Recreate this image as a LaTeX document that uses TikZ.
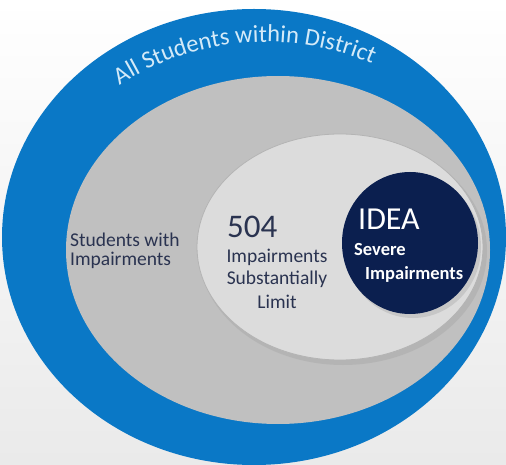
\documentclass[tikz,border=0pt]{standalone}
\usepackage{fontspec}
\setmainfont{Carlito}
\usetikzlibrary{decorations.text}
\definecolor{bandblue}{HTML}{0A78C6}
\definecolor{midgray}{HTML}{C0C0C0}
\definecolor{lightfill}{HTML}{DCDCDC}
\definecolor{lightedge}{HTML}{B4B4B4}
\definecolor{shadowgray}{HTML}{A9A9A9}
\definecolor{navyfill}{HTML}{0B1F4F}
\definecolor{darktext}{HTML}{2A3350}
\definecolor{arctext}{HTML}{D4EAF8}
\definecolor{bgbot}{HTML}{EAEAEA}
\tikzset{
  darklabel/.style={inner sep=0pt, text=darktext, font=\fontsize{19.5}{19.5}\selectfont},
  whitelabel/.style={inner sep=0pt, text=white, font=\bfseries\fontsize{18.5}{18.5}\selectfont},
}
\begin{document}
\begin{tikzpicture}[x=1pt,y=1pt]
\useasboundingbox (0,0) rectangle (506,464);
\shade[top color=white, bottom color=bgbot] (0,0) rectangle (506,464);
% outer blue band
\fill[bandblue] (254,227) ellipse [x radius=252, y radius=228];
% gray ellipse
\fill[midgray] (278,214) ellipse [x radius=212, y radius=174];
% light ellipse with soft shadow
\fill[shadowgray, opacity=0.5] (343,213) ellipse [x radius=144, y radius=114];
\fill[lightfill, draw=lightedge, line width=0.8pt] (340,217) ellipse [x radius=143, y radius=113];
% navy circle
\fill[shadowgray, opacity=0.4] (413,217) ellipse [x radius=68, y radius=71];
\fill[navyfill] (410,221) ellipse [x radius=68, y radius=71];
% curved title
\path[decorate, decoration={text along path,
  text={|\fontsize{24.5}{24.5}\selectfont|All Students within District},
  text color=arctext}]
  (266,153) ++(123:269) arc [start angle=123, end angle=60, radius=269];
% left label
\node[darklabel, anchor=base west] (sw1) at (70,217) {Students with};
\node[darklabel, anchor=base west] (sw2) at (70,198) {Impairments};
% 504 block
\node[inner sep=0pt, text=darktext, font=\fontsize{33}{33}\selectfont, anchor=base west] (n504) at (227,226) {504};
\node[darklabel, anchor=base] (l1) at (277,201) {Impairments};
\node[darklabel, anchor=base] (l2) at (277,179) {Substantially};
\node[darklabel, anchor=base] (l3) at (277,156) {Limit};
% IDEA block
\node[inner sep=0pt, text=white, font=\fontsize{32}{32}\selectfont, anchor=base west] (idea) at (358,234) {IDEA};
\node[whitelabel, anchor=base west] (sev) at (354,208) {Severe};
\node[whitelabel, anchor=base west] (imp) at (365,184) {Impairments};
\end{tikzpicture}
\end{document}
